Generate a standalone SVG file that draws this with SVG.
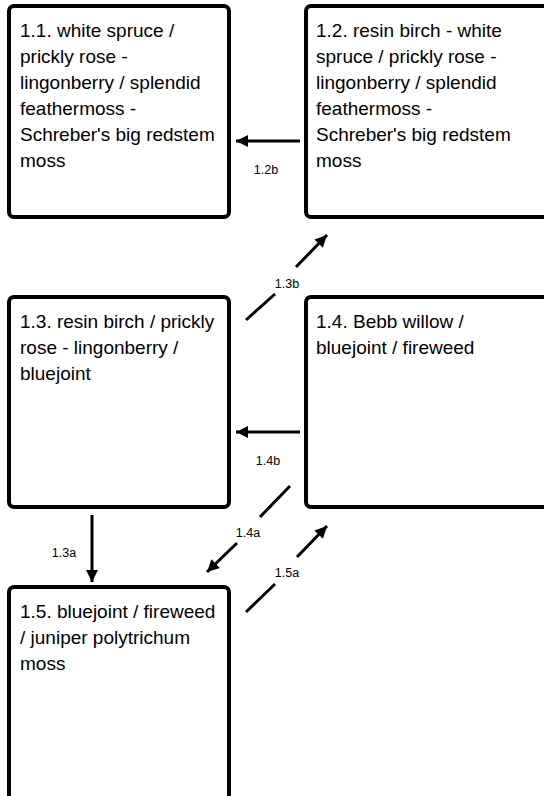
<svg xmlns="http://www.w3.org/2000/svg" width="544" height="796" viewBox="0 0 544 796">
<style>
.box{fill:#fff;stroke:#000;stroke-width:4}
.t{font-family:"Liberation Sans",Arial,sans-serif;font-size:19px;fill:#000}
.l{font-family:"Liberation Sans",Arial,sans-serif;font-size:12.5px;fill:#000;text-anchor:middle}
.c{stroke:#000;stroke-width:3;fill:none}
</style>
<defs>
<marker id="ah" markerUnits="userSpaceOnUse" markerWidth="14" markerHeight="14" viewBox="0 0 14 14" refX="13" refY="7" orient="auto">
<path d="M1,1 L13,7 L1,13 Z" fill="#000"/>
</marker>
</defs>
<rect width="544" height="796" fill="#fff"/>
<g id="n1_1">
<rect class="box" x="9" y="6" width="220" height="211" rx="5"/>
<text class="t" x="20" y="37">1.1. white spruce /</text>
<text class="t" x="20" y="63">prickly rose -</text>
<text class="t" x="20" y="89">lingonberry / splendid</text>
<text class="t" x="20" y="115">feathermoss -</text>
<text class="t" x="20" y="141">Schreber's big redstem</text>
<text class="t" x="20" y="167">moss</text>
</g>
<g id="n1_2">
<rect class="box" x="306" y="6" width="250" height="211" rx="5"/>
<text class="t" x="316" y="37">1.2. resin birch - white</text>
<text class="t" x="316" y="63">spruce / prickly rose -</text>
<text class="t" x="316" y="89">lingonberry / splendid</text>
<text class="t" x="316" y="115">feathermoss -</text>
<text class="t" x="316" y="141">Schreber's big redstem</text>
<text class="t" x="316" y="167">moss</text>
</g>
<g id="n1_3">
<rect class="box" x="9" y="297" width="220" height="210" rx="5"/>
<text class="t" x="20" y="328">1.3. resin birch / prickly</text>
<text class="t" x="20" y="354">rose - lingonberry /</text>
<text class="t" x="20" y="380">bluejoint</text>
</g>
<g id="n1_4">
<rect class="box" x="306" y="297" width="250" height="210" rx="5"/>
<text class="t" x="316" y="328">1.4. Bebb willow /</text>
<text class="t" x="316" y="354">bluejoint / fireweed</text>
</g>
<g id="n1_5">
<rect class="box" x="9" y="587" width="220" height="240" rx="5"/>
<text class="t" x="20" y="618">1.5. bluejoint / fireweed</text>
<text class="t" x="20" y="644">/ juniper polytrichum</text>
<text class="t" x="20" y="670">moss</text>
</g>
<g id="connectors">
<line class="c" x1="300" y1="141" x2="236" y2="141" marker-end="url(#ah)"/>
<text class="l" x="266" y="174">1.2b</text>
<line class="c" x1="246" y1="320" x2="275" y2="294"/>
<line class="c" x1="296" y1="267" x2="327" y2="235" marker-end="url(#ah)"/>
<text class="l" x="287" y="288">1.3b</text>
<line class="c" x1="300" y1="432" x2="236" y2="432" marker-end="url(#ah)"/>
<text class="l" x="268" y="465">1.4b</text>
<line class="c" x1="290" y1="486" x2="260" y2="517"/>
<line class="c" x1="237" y1="543" x2="207" y2="572" marker-end="url(#ah)"/>
<text class="l" x="248" y="537">1.4a</text>
<line class="c" x1="92" y1="515" x2="92" y2="582" marker-end="url(#ah)"/>
<text class="l" x="64" y="557">1.3a</text>
<line class="c" x1="246" y1="612" x2="275" y2="584"/>
<line class="c" x1="297" y1="557" x2="327" y2="526" marker-end="url(#ah)"/>
<text class="l" x="287" y="577">1.5a</text>
</g>
</svg>
